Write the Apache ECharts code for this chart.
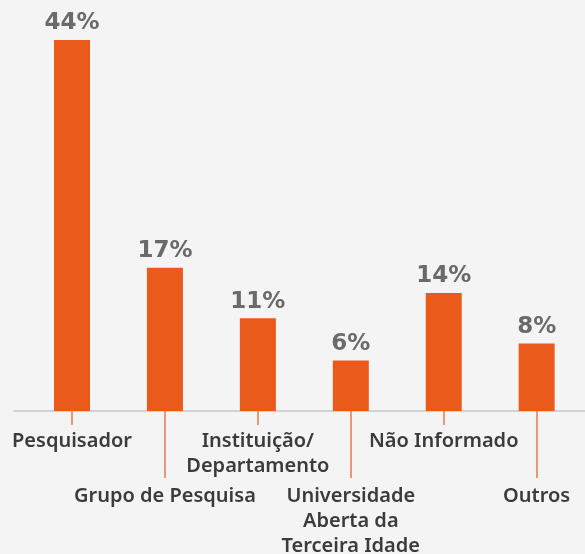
<!DOCTYPE html>
<html>
<head>
<meta charset="utf-8">
<script src="https://cdn.jsdelivr.net/npm/echarts@6/dist/echarts.min.js"></script>
<style>
html,body{margin:0;padding:0;background:#f4f4f4;}
#main{width:585px;height:554px;}
</style>
</head>
<body>
<div id="main"></div>
<script>
// categorias e valores (%)
var categories = ['Pesquisador', 'Grupo de Pesquisa', 'Instituição/\nDepartamento', 'Universidade\nAberta da\nTerceira Idade', 'Não Informado', 'Outros'];
var values = [44, 17, 11, 6, 14, 8];
var upperRow = [0, 2, 4];
var lowerRow = [1, 3, 5];

var barData = [];
for (var i in values) {
	barData.push([Number(i), values[i]]);
}

var myChart = echarts.init(document.getElementById('main'));

var labelStyle = {
	color: '#3b3b3b',
	fontFamily: 'Noto Sans',
	fontWeight: 600,
	fontSize: 20,
	lineHeight: 25,
	align: 'center'
};

myChart.setOption({
	backgroundColor: '#f4f4f4',
	animation: false,
	grid: {
		left: 14,
		right: 0,
		top: 40,
		bottom: 143,
		outerBoundsMode: 'none'
	},
	xAxis: [{
		type: 'value',
		min: -0.624,
		max: 5.52,
		splitLine: { show: false },
		axisLine: { show: true, lineStyle: { color: '#c6c6c6', width: 1.5 } },
		axisTick: { show: true, customValues: upperRow, length: 14, lineStyle: { color: '#e8794c', width: 1.5 } },
		axisLabel: Object.assign({
			customValues: upperRow,
			margin: 18,
			formatter: function (v) { return categories[v]; }
		}, labelStyle)
	}, {
		type: 'value',
		position: 'bottom',
		min: -0.624,
		max: 5.52,
		splitLine: { show: false },
		axisLine: { show: false },
		axisTick: { show: true, customValues: lowerRow, length: 67, lineStyle: { color: '#e8794c', width: 1.5 } },
		axisLabel: Object.assign({
			customValues: lowerRow,
			margin: 73,
			formatter: function (v) { return categories[v]; }
		}, labelStyle)
	}],
	yAxis: {
		type: 'value',
		min: 0,
		max: 44,
		show: false
	},
	series: [{
		type: 'bar',
		xAxisIndex: 0,
		barWidth: 36,
		data: barData,
		itemStyle: { color: '#e95a1b' },
		label: {
			show: true,
			position: 'top',
			distance: 5,
			formatter: function (p) { return p.value[1] + '%'; },
			color: '#6a6a6a',
			fontFamily: 'DejaVu Sans',
			fontWeight: 'bold',
			fontSize: 23
		}
	}]
});
</script>
</body>
</html>
